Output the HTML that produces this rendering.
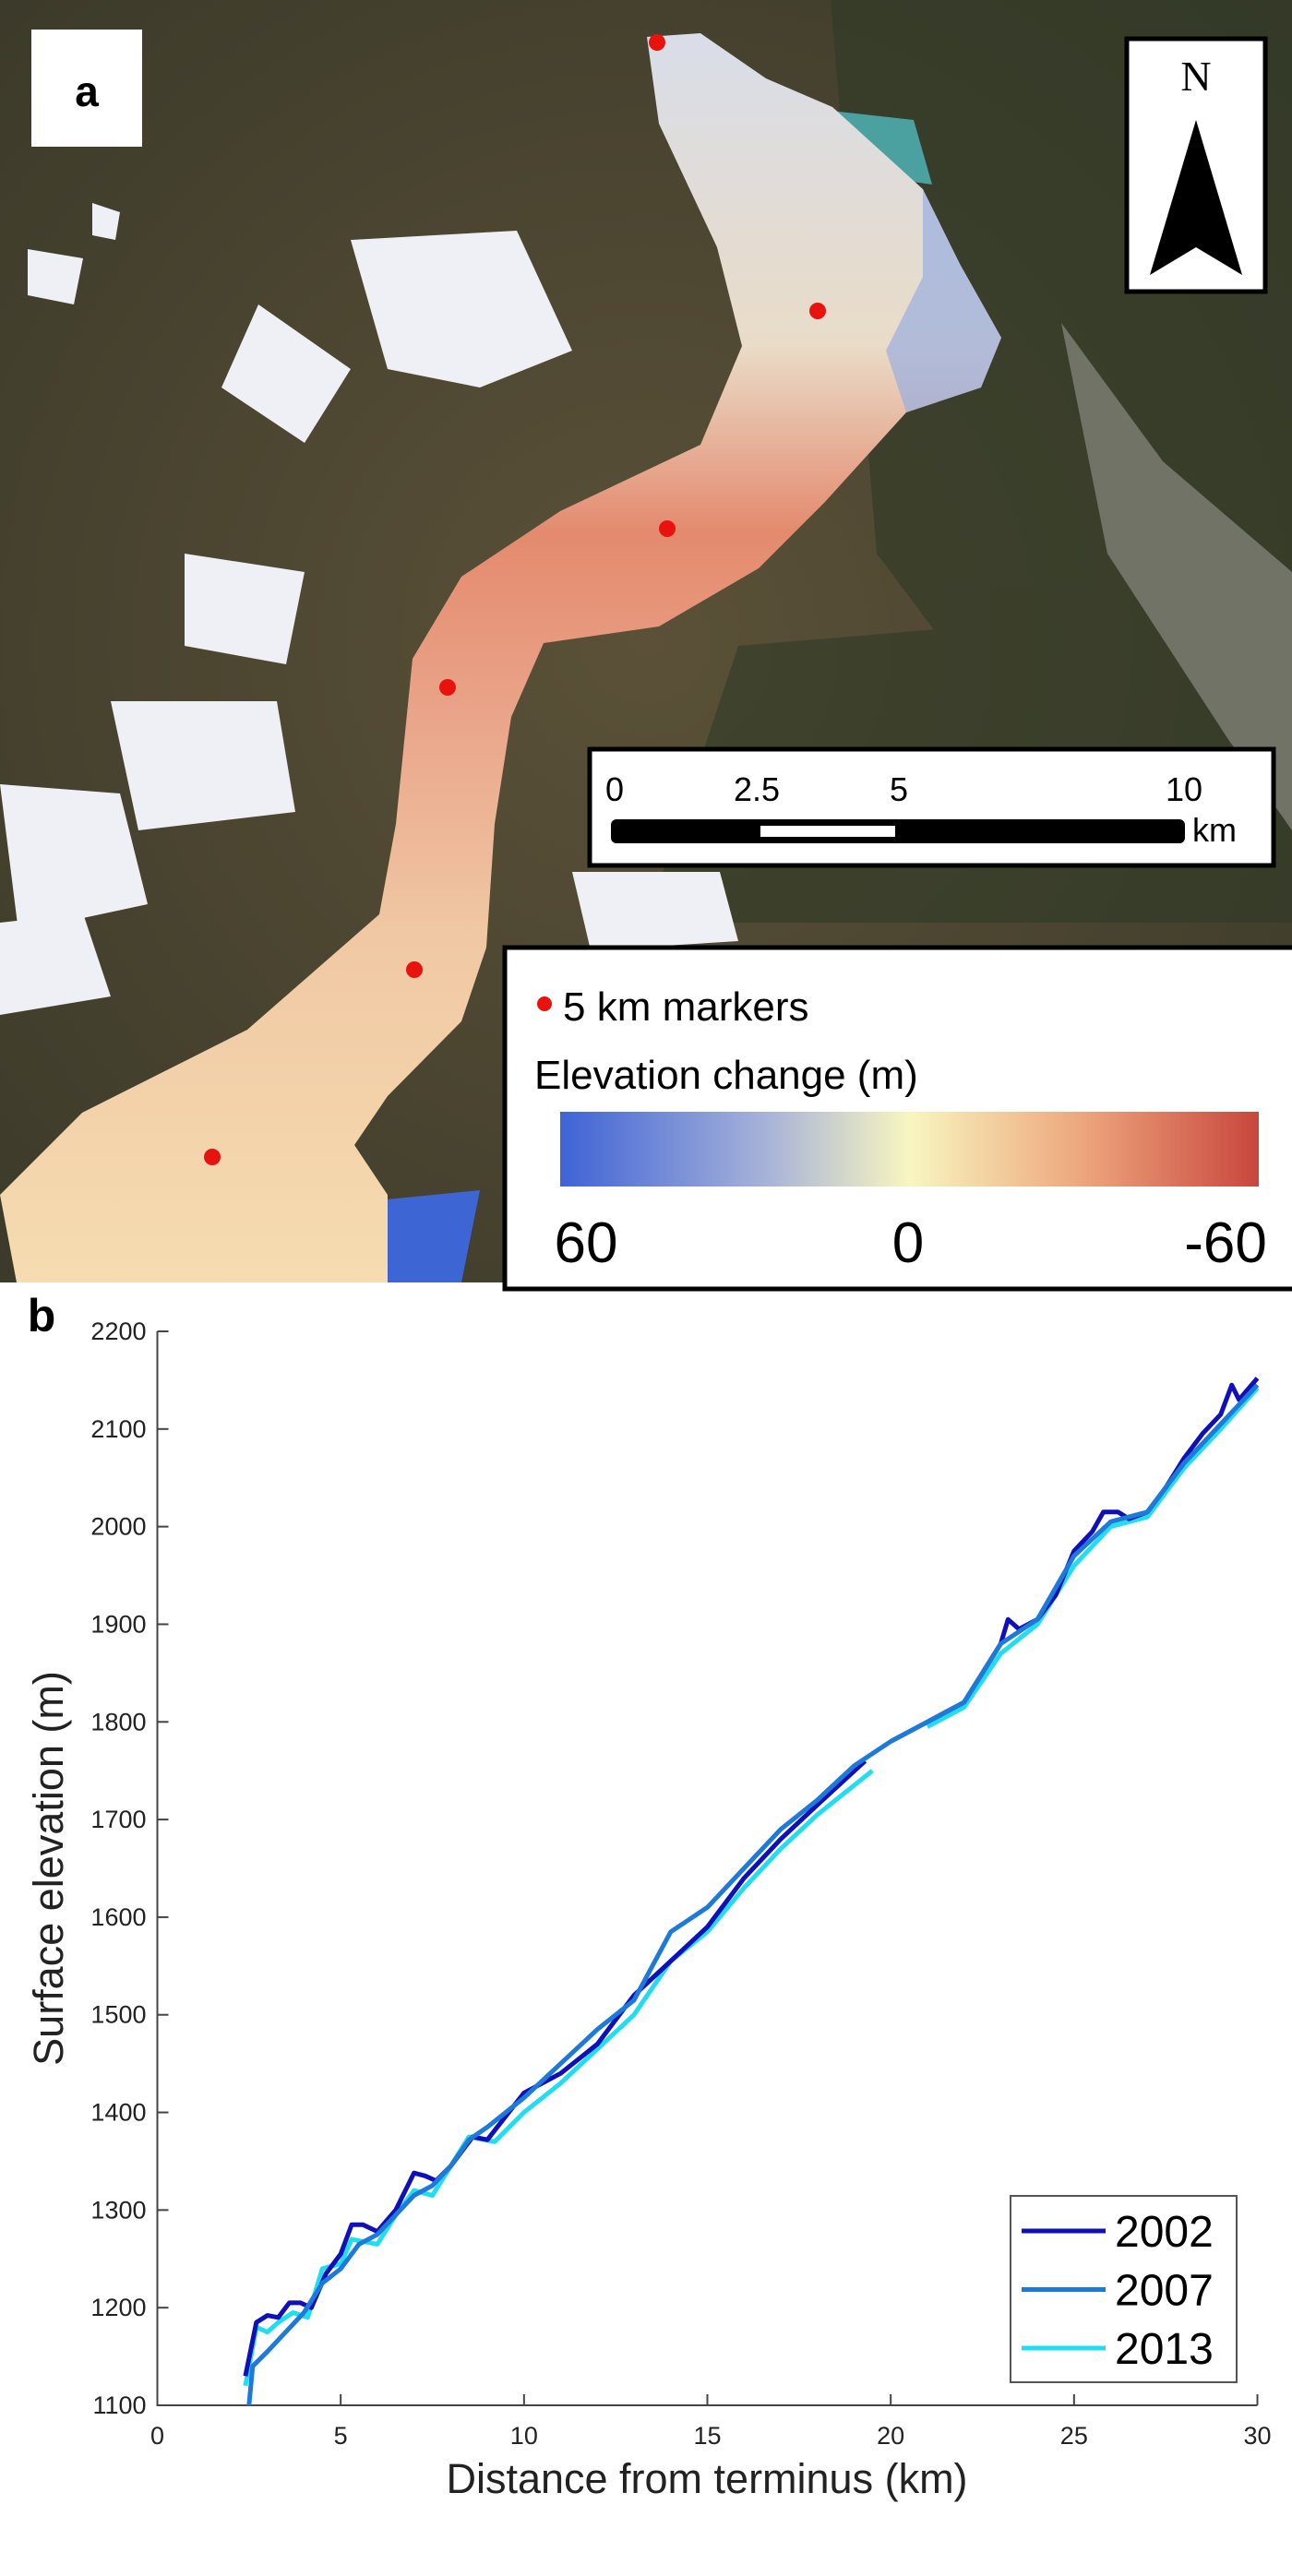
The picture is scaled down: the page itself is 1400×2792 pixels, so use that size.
<!DOCTYPE html>
<html><head><meta charset="utf-8"><style>
html,body{margin:0;padding:0;background:#fff;}
svg{display:block;font-family:"Liberation Sans",sans-serif;}
</style></head><body>
<svg id="fig" width="1400" height="2792" viewBox="0 0 1400 2792">
<defs>
<linearGradient id="cb" x1="0" x2="1" y1="0" y2="0">
<stop offset="0" stop-color="#3f63d6"/><stop offset="0.3" stop-color="#a9b4d8"/><stop offset="0.5" stop-color="#f8f6c0"/><stop offset="0.75" stop-color="#eda57c"/><stop offset="1" stop-color="#c8463d"/>
</linearGradient>
<linearGradient id="gl" x1="0" y1="0" x2="0" y2="1">
<stop offset="0" stop-color="#d9dde8"/><stop offset="0.25" stop-color="#e9dcc8"/><stop offset="0.4" stop-color="#e48a6e"/><stop offset="0.55" stop-color="#eaa58a"/><stop offset="0.72" stop-color="#f0c8a4"/><stop offset="1" stop-color="#f6dcb0"/>
</linearGradient>
<radialGradient id="terr" cx="0.5" cy="0.5" r="0.7">
<stop offset="0" stop-color="#5b5138"/><stop offset="1" stop-color="#3c3a2a"/>
</radialGradient>
</defs>
<g>
<rect x="0" y="0" width="1400" height="1390" fill="url(#terr)"/>
<g fill="#2f3a26" opacity="0.6">
<path d="M900 0 L1400 0 L1400 700 L1100 800 L950 600 Z"/>
<path d="M800 700 L1400 650 L1400 1000 L700 1000 Z"/>
</g>
<path d="M1150 350 L1260 500 L1400 620 L1400 900 L1330 800 L1200 600 Z" fill="#8a8a82" opacity="0.7"/>
<g fill="#eef0f5">
<path d="M380 260 L560 250 L620 380 L520 420 L420 400 Z"/>
<path d="M280 330 L380 400 L330 480 L240 420 Z"/>
<path d="M200 600 L330 620 L310 720 L200 700 Z"/>
<path d="M120 760 L300 760 L320 880 L150 900 Z"/>
<path d="M0 850 L130 860 L160 980 L20 1010 Z"/>
<path d="M30 270 L90 280 L80 330 L30 320 Z"/>
<path d="M100 220 L130 230 L125 260 L100 255 Z"/>
<path d="M0 1000 L90 990 L120 1080 L0 1100 Z"/>
<path d="M620 945 L780 945 L800 1020 L640 1030 Z"/>
</g>
<path d="M419 1300 L520 1290 L500 1390 L410 1390 Z" fill="#3d66d4"/>
<path d="M900 120 L990 130 L1010 200 L940 190 Z" fill="#4aa1a0"/>
<path d="M701 40 L759 36 L830 85 L902 116 L1000 205 L1040 286 L1085 366 L1063 420 L982 447 L893 545 L822 616 L714 679 L589 697 L554 777 L536 893 L527 1027 L500 1107 L420 1188 L384 1241 L420 1295 L420 1390 L18 1390 L0 1295 L89 1206 L268 1116 L411 991 L429 893 L447 714 L500 625 L607 554 L759 482 L804 375 L777 268 L714 134 Z" fill="url(#gl)"/>
<path d="M1000 205 L1040 286 L1085 366 L1063 420 L982 447 L960 380 L1000 300 Z" fill="#9aaee0" opacity="0.7"/>
<g fill="#e8120e">
<circle cx="712" cy="46" r="9"/><circle cx="886" cy="337" r="9"/><circle cx="723" cy="573" r="9"/><circle cx="485" cy="745" r="9"/><circle cx="449" cy="1051" r="9"/><circle cx="230" cy="1254" r="9"/>
</g>
<rect x="34" y="32" width="120" height="127" fill="#fff"/>
<text x="94" y="115" font-size="46" font-weight="bold" text-anchor="middle">a</text>
<g>
<rect x="1221" y="42" width="150" height="274" fill="#fff" stroke="#000" stroke-width="5"/>
<text x="1296" y="98" font-family="Liberation Serif,serif" font-size="46" text-anchor="middle">N</text>
<path d="M1296 130 L1346 298 L1296 268 L1246 298 Z" fill="#000"/>
</g>
<g>
<rect x="639" y="812" width="741" height="126" fill="#fff" stroke="#000" stroke-width="5"/>
<text x="666" y="868" font-size="36" text-anchor="middle">0</text>
<text x="820" y="868" font-size="36" text-anchor="middle">2.5</text>
<text x="974" y="868" font-size="36" text-anchor="middle">5</text>
<text x="1283" y="868" font-size="36" text-anchor="middle">10</text>
<rect x="662" y="888" width="622" height="26" rx="6" fill="#000"/>
<rect x="824" y="895" width="146" height="12" fill="#fff"/>
<text x="1292" y="912" font-size="36">km</text>
</g>
<g>
<rect x="547" y="1027" width="856" height="370" fill="#fff" stroke="#000" stroke-width="5"/>
<circle cx="590" cy="1088" r="8" fill="#e8120e"/>
<text x="610" y="1106" font-size="44">5 km markers</text>
<text x="579" y="1180" font-size="44">Elevation change (m)</text>
<rect x="607" y="1205" width="757" height="81" fill="url(#cb)"/>
<text x="635" y="1368" font-size="62" text-anchor="middle">60</text>
<text x="984" y="1368" font-size="62" text-anchor="middle">0</text>
<text x="1328" y="1368" font-size="62" text-anchor="middle">-60</text>
</g>
</g>
<text x="45" y="1443" font-size="50" font-weight="bold" text-anchor="middle">b</text>
<g id="chart"></g>
</svg>
<script>
const years = ["2002","2007","2013"];
const colors = ["#1010b8","#1e7ad8","#22ddf0"];
const xTicks = [0,5,10,15,20,25,30];
const yTicks = [1100,1200,1300,1400,1500,1600,1700,1800,1900,2000,2100,2200];
const x2002 = [2.4,2.7,3.0,3.3,3.6,3.9,4.2,4.6,5.0,5.3,5.6,6.0,6.5,7.0,7.3,7.6,8.0,8.6,9.0,10,11,12,13,14,15,16,17,18,19.3,19.6,20,21,22,23,23.2,23.5,24,24.5,25,25.5,25.8,26.2,26.5,27,27.5,28,28.5,29,29.3,29.5,30];
const y2002 = [1130,1185,1192,1190,1205,1205,1200,1235,1255,1285,1285,1278,1300,1338,1335,1330,1345,1375,1372,1420,1440,1470,1520,1555,1590,1640,1680,1715,1760,null,1780,1800,1820,1880,1905,1895,1905,1930,1975,1995,2015,2015,2008,2015,2040,2070,2095,2115,2145,2130,2152];
const x2007 = [2.5,2.6,3.0,3.5,4.0,4.5,5.0,5.5,6.0,6.5,7.0,7.5,8.0,8.5,9,10,11,12,13,14,15,16,17,18,19,20,21,22,23,24,25,26,27,28,29,30];
const y2007 = [1100,1140,1155,1175,1195,1225,1240,1265,1275,1295,1315,1325,1345,1372,1385,1415,1450,1485,1515,1585,1610,1650,1690,1720,1755,1780,1800,1820,1880,1905,1970,2005,2015,2065,2105,2145];
const x2013 = [2.4,2.7,3.0,3.3,3.7,4.1,4.5,5.0,5.3,6.0,6.5,7.0,7.5,8.0,8.5,9.2,10,11,12,13,14,15,16,17,18,19.5,20,21,22,23,24,25,26,27,28,29,30];
const y2013 = [1120,1180,1175,1185,1195,1190,1240,1245,1270,1265,1295,1320,1315,1345,1375,1370,1400,1430,1465,1500,1555,1585,1630,1670,1705,1750,null,1795,1815,1870,1900,1960,2000,2010,2060,2100,2142];
const X0=170.5,X1=1362.5,Y0=2607,Y1=1443;
const sx=v=>X0+(v-0)/(30-0)*(X1-X0);
const sy=v=>Y0-(v-1100)/(2200-1100)*(Y0-Y1);
const NS="http://www.w3.org/2000/svg";
const g=document.getElementById('chart');
function mk(t,a,parent){const e=document.createElementNS(NS,t);for(const k in a)e.setAttribute(k,a[k]);(parent||g).appendChild(e);return e;}
const ax=mk('path',{d:`M${X0} ${Y1} L${X0} ${Y0} L${X1} ${Y0}`,fill:'none',stroke:'#444','stroke-width':2});


xTicks.forEach(t=>{
 const l=mk('line',{x1:sx(t),x2:sx(t),y1:Y0,y2:Y0-12,stroke:'#444','stroke-width':2});
 
 
 const tx=mk('text',{x:sx(t),y:Y0+42,'font-size':27,'text-anchor':'middle',fill:'#222'});
 tx.textContent=t;
 
 
});
yTicks.forEach(t=>{
 const l=mk('line',{x1:X0,x2:X0+12,y1:sy(t),y2:sy(t),stroke:'#444','stroke-width':2});
 
 
 const tx=mk('text',{x:X0-12,y:sy(t)+9,'font-size':27,'text-anchor':'end',fill:'#222'});
 tx.textContent=t;
 
 
});
const xt=mk('text',{x:766,y:2702,'font-size':45,'text-anchor':'middle',fill:'#222'});
xt.textContent='Distance from terminus (km)';


const yt=mk('text',{x:0,y:0,'font-size':45,'text-anchor':'middle',fill:'#222',transform:'translate(68 2025) rotate(-90)'});
yt.textContent='Surface elevation (m)';


const series=[[x2002,y2002],[x2007,y2007],[x2013,y2013]];
[2,0,1].forEach(i=>{
 const [xs,ys]=series[i];let d='',pen=false;
 xs.forEach((x,j)=>{if(ys[j]==null){pen=false;return;}d+=(pen?'L':'M')+sx(x).toFixed(1)+' '+sy(ys[j]).toFixed(1)+' ';pen=true;});
 const p=mk('path',{d:d,fill:'none',stroke:colors[i],'stroke-width':5,'stroke-linejoin':'round'});
 
 
});
const lg=mk('g',{});


mk('rect',{x:1095,y:2380,width:245,height:202,fill:'#fff',stroke:'#555','stroke-width':2},lg);
years.forEach((yr,i)=>{
 const yy=2418+i*63.5;
 const l=mk('line',{x1:1107,x2:1198,y1:yy,y2:yy,stroke:colors[i],'stroke-width':5},lg);
 
 
 const t=mk('text',{x:1208,y:yy+17,'font-size':48,fill:'#000'},lg);
 t.textContent=yr;
 
 
});
</script>
</body></html>
